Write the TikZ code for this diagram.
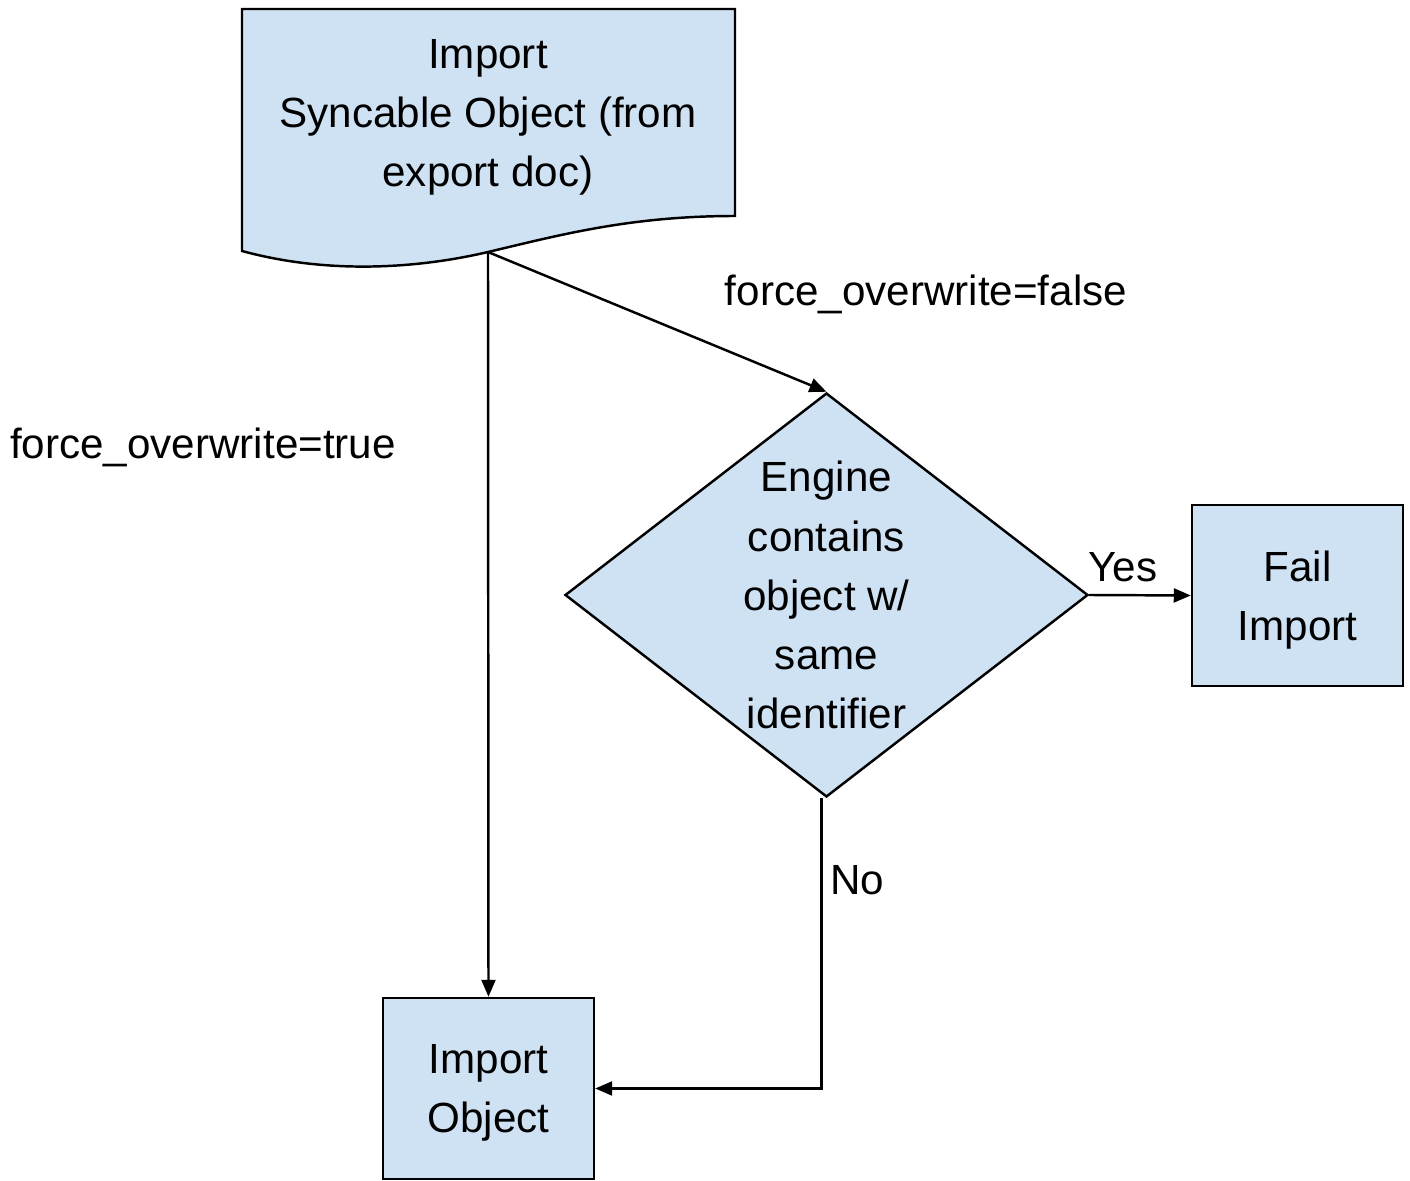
\documentclass[tikz,border=0pt]{standalone}
\usepackage{fontspec}
\setmainfont{Liberation Sans}
\usepackage{tikz}
\usetikzlibrary{shapes, arrows.meta, positioning, calc}
\definecolor{boxblue}{HTML}{CFE2F3}
\tikzstyle{process} = [rectangle, minimum width=2.11cm, minimum height=1.81cm, text centered, align=center, draw=black, fill=boxblue, line width=0.7pt]
\tikzstyle{decision} = [diamond, minimum width=5.23cm, minimum height=4.04cm, inner sep=0pt, draw=black, fill=boxblue, line width=0.7pt]
\tikzstyle{flow} = [-{Triangle[length=1.7mm, width=1.4mm]}, line width=0.7pt]
\tikzstyle{words} = [align=center, font=\fontsize{12}{16.8}\selectfont]

\begin{document}
\begin{tikzpicture}[node distance=4cm]
\useasboundingbox (0,0) rectangle (14.1,-11.81);
% document shape
\draw [fill=boxblue, line width=0.7pt] (2.42,-0.09) -- (7.35,-0.09) -- (7.35,-2.16)
  .. controls (6.3,-2.16) and (5.6,-2.35) .. (4.88,-2.52)
  .. controls (4.2,-2.68) and (3.3,-2.75) .. (2.42,-2.51) -- cycle;
\node (import) [words] at (4.88,-1.17) {Import\\Syncable Object (from\\export doc)};
\coordinate (docbot) at (4.88,-2.52);
\node (engine) [decision] at (8.265,-5.95) {};
\node (enginetext) [words] at (engine.center) {Engine\\contains\\object w/\\same\\identifier};
\node (fail) [process, words, text depth=0pt] at (12.975,-5.955) {Fail\\Import};
\node (impobj) [process, words, text depth=0pt] at (4.885,-10.885) {Import\\Object};
\draw [flow] (docbot) -- (impobj.north);
\draw [flow] (docbot) -- (engine.north);
\draw [flow] (engine.east) -- (fail.west);
\draw [flow] ([xshift=-0.05cm]engine.south) |- (impobj.east);
\node (falselbl) [words] at (9.26,-2.94) {force\_overwrite=false};
\node (truelbl) [words] at (2.03,-4.47) {force\_overwrite=true};
\node (yeslbl) [words] at (11.23,-5.67) {Yes};
\node (nolbl) [words] at (8.57,-8.8) {No};
\end{tikzpicture}
\end{document}
